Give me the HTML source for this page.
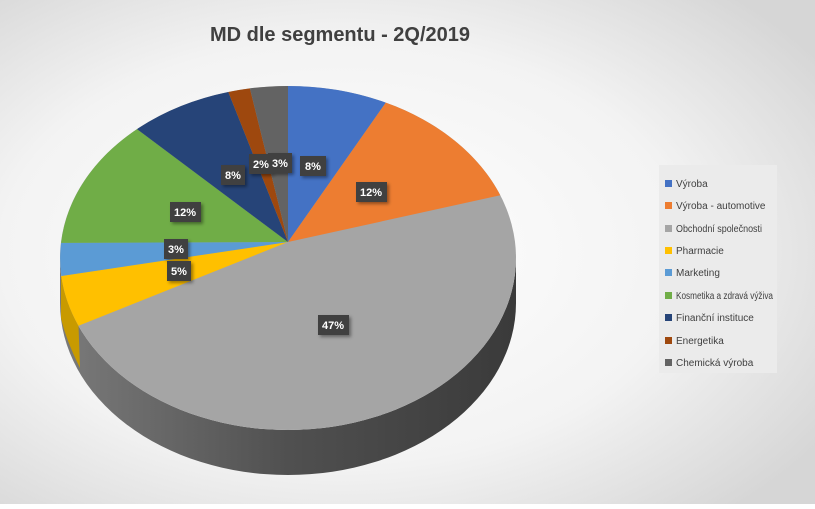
<!DOCTYPE html>
<html><head><meta charset="utf-8"><style>
body{margin:0;width:815px;height:504px;overflow:hidden;font-family:"Liberation Sans",sans-serif}
</style></head><body>
<svg width="815" height="504" viewBox="0 0 815 504" xmlns="http://www.w3.org/2000/svg">
<defs>
<radialGradient id="bg" cx="0.42" cy="0.5" r="0.7">
<stop offset="0" stop-color="#ffffff"/><stop offset="0.6" stop-color="#f3f3f3"/><stop offset="1" stop-color="#d6d6d6"/>
</radialGradient>
<linearGradient id="side" x1="0" x2="1" y1="0" y2="0">
<stop offset="0" stop-color="#7a7a7a"/><stop offset="0.5" stop-color="#505050"/><stop offset="1" stop-color="#3a3a3a"/>
</linearGradient>
<filter id="sh" x="-20%" y="-20%" width="140%" height="140%"><feDropShadow dx="2" dy="2" stdDeviation="1.5" flood-color="#000" flood-opacity="0.4"/></filter>
</defs>
<rect width="815" height="504" fill="url(#bg)"/>
<text x="340" y="41" text-anchor="middle" font-size="20" font-weight="bold" fill="#404040">MD dle segmentu - 2Q/2019</text>
<path d="M516,258 L516,303 A228,172 0 0 1 60,303 L60,258 A228,172 0 0 0 516,258 Z" fill="url(#side)"/>
<path d="M61,276 L61,318 Q66,340 80,368 L78.5,325.8 Z" fill="#c89a00"/>
<ellipse cx="288" cy="258" rx="228" ry="172" fill="#a5a5a5"/>
<g stroke="none">
<path d="M288,242 L288,86 A228,172 0 0 1 385.8,102.6 Z" fill="#4472c4"/>
<path d="M288,242 L385.8,102.6 A228,172 0 0 1 500.3,195.3 Z" fill="#ed7d31"/>
<path d="M288,242 L78.5,325.8 A228,172 0 0 1 61.3,276 Z" fill="#ffc000"/>
<path d="M288,242 L61.3,276 A228,172 0 0 1 61.1,242.9 Z" fill="#5b9bd5"/>
<path d="M288,242 L61.1,242.9 A228,172 0 0 1 137,129.1 Z" fill="#70ad47"/>
<path d="M288,242 L137,129.1 A228,172 0 0 1 228.3,92 Z" fill="#264478"/>
<path d="M288,242 L228.3,92 A228,172 0 0 1 249.9,88.4 Z" fill="#9e480e"/>
<path d="M288,242 L249.9,88.4 A228,172 0 0 1 288,86 Z" fill="#636363"/>
</g>
<g font-size="11" font-weight="bold" fill="#fff" text-anchor="middle">
<g filter="url(#sh)" fill="#404040">
<rect x="300" y="156" width="26" height="20"/>
<rect x="356" y="182" width="31" height="20"/>
<rect x="249" y="154" width="24" height="20"/>
<rect x="268" y="153" width="24" height="20"/>
<rect x="221" y="165" width="24" height="20"/>
<rect x="170" y="202" width="31" height="20"/>
<rect x="164" y="239" width="24" height="20"/>
<rect x="167" y="261" width="24" height="20"/>
<rect x="318" y="315" width="31" height="20"/>
</g>
<text x="313" y="170">8%</text>
<text x="371" y="196">12%</text>
<text x="261" y="168">2%</text>
<text x="280" y="167">3%</text>
<text x="233" y="179">8%</text>
<text x="185" y="216">12%</text>
<text x="176" y="253">3%</text>
<text x="179" y="275">5%</text>
<text x="333" y="329">47%</text>
</g>
<rect x="659" y="165" width="118" height="208" fill="#ebebeb"/>
<g font-size="10" fill="#404040">
<rect x="665" y="180" width="7" height="7" fill="#4472c4"/><text x="676" y="187">Výroba</text>
<rect x="665" y="202" width="7" height="7" fill="#ed7d31"/><text x="676" y="209">Výroba - automotive</text>
<rect x="665" y="225" width="7" height="7" fill="#a5a5a5"/><text x="676" y="232" textLength="86" lengthAdjust="spacingAndGlyphs">Obchodní společnosti</text>
<rect x="665" y="247" width="7" height="7" fill="#ffc000"/><text x="676" y="254">Pharmacie</text>
<rect x="665" y="269" width="7" height="7" fill="#5b9bd5"/><text x="676" y="276">Marketing</text>
<rect x="665" y="292" width="7" height="7" fill="#70ad47"/><text x="676" y="299" textLength="97" lengthAdjust="spacingAndGlyphs">Kosmetika a zdravá výživa</text>
<rect x="665" y="314" width="7" height="7" fill="#264478"/><text x="676" y="321">Finanční instituce</text>
<rect x="665" y="337" width="7" height="7" fill="#9e480e"/><text x="676" y="344">Energetika</text>
<rect x="665" y="359" width="7" height="7" fill="#636363"/><text x="676" y="366">Chemická výroba</text>
</g>
</svg>
</body></html>
